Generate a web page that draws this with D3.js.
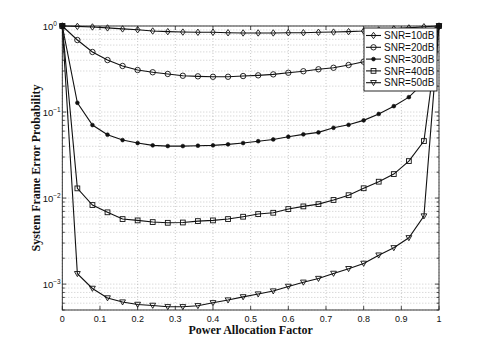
<!DOCTYPE html>
<html>
<head>
<meta charset="utf-8">
<script src="https://cdn.jsdelivr.net/npm/d3@7"></script>
<style>
  body { margin: 0; background: #fff; }
  svg { display: block; }
</style>
</head>
<body>
<div id="chart"></div>
<script>
// Power allocation factor (x values)
var allocation = [0, 0.04, 0.08, 0.12, 0.16, 0.2, 0.24, 0.28, 0.32, 0.36, 0.4, 0.44, 0.48,
  0.52, 0.56, 0.6, 0.64, 0.68, 0.72, 0.76, 0.8, 0.84, 0.88, 0.92, 0.96, 1];

var seriesNames = ["SNR=10dB", "SNR=20dB", "SNR=30dB", "SNR=40dB", "SNR=50dB"];
var seriesMarkers = ["diamond", "circle", "dot", "square", "triangle"];

var snr10 = [1, 0.99, 0.975, 0.95, 0.925, 0.905, 0.875, 0.86, 0.85, 0.845, 0.845, 0.835, 0.83,
  0.83, 0.83, 0.835, 0.835, 0.845, 0.85, 0.86, 0.875, 0.9, 0.925, 0.95, 0.98, 1];
var snr20 = [1, 0.687, 0.499, 0.402, 0.343, 0.308, 0.29, 0.277, 0.264, 0.26, 0.257, 0.257, 0.262,
  0.267, 0.274, 0.286, 0.298, 0.314, 0.327, 0.352, 0.385, 0.44, 0.526, 0.657, 0.822, 1];
var snr30 = [1, 0.128, 0.0706, 0.0545, 0.0472, 0.0436, 0.041, 0.0402, 0.0402, 0.0406, 0.041, 0.0421, 0.0436,
  0.0458, 0.048, 0.0516, 0.055, 0.058, 0.0656, 0.071, 0.08, 0.095, 0.117, 0.149, 0.22, 1];
var snr40 = [1, 0.01296, 0.0083, 0.00683, 0.0057, 0.0055, 0.00526, 0.00516, 0.0052, 0.0054, 0.0055, 0.0057, 0.00607,
  0.00652, 0.00675, 0.00745, 0.008, 0.0085, 0.0095, 0.0108, 0.013, 0.0155, 0.019, 0.0269, 0.046, 1];
var snr50 = [1, 0.00132, 0.00089, 0.00069, 0.000618, 0.00058, 0.000565, 0.000545, 0.000545, 0.00056, 0.000606, 0.000652, 0.00071,
  0.000766, 0.00083, 0.00094, 0.00105, 0.00116, 0.00133, 0.00151, 0.00174, 0.00217, 0.00264, 0.00345, 0.00618, 1];

var seriesValues = [snr10, snr20, snr30, snr40, snr50];

var xTicks = [0, 0.1, 0.2, 0.3, 0.4, 0.5, 0.6, 0.7, 0.8, 0.9, 1];
var yDecades = [-3, -2, -1, 0];

var xTitle = "Power Allocation Factor";
var yTitle = "System Frame Error Probability";

// Set the dimensions of the canvas / graph
var margin = { top: 26, right: 46, bottom: 39, left: 62.3 },
  width = 485 - margin.left - margin.right,
  height = 349 - margin.top - margin.bottom;

var x = d3.scaleLinear().domain([0, 1]).range([0, width]);
var y = d3.scaleLog().domain([5e-4, 1]).range([height, 0]);

var svg = d3
  .select("#chart")
  .append("svg")
  .attr("width", 485)
  .attr("height", 349)
  .append("g")
  .attr("transform", "translate(" + margin.left + "," + margin.top + ")");

// grid lines (dotted)
var minorVals = [];
for (var d = -4; d <= 0; d++) {
  for (var k = 1; k <= 9; k++) {
    var v = k * Math.pow(10, d);
    if (v >= 5e-4 && v <= 1) minorVals.push(v);
  }
}

svg
  .selectAll(".ygrid")
  .data(minorVals)
  .enter()
  .append("line")
  .attr("class", "ygrid")
  .attr("x1", 0)
  .attr("x2", width)
  .attr("y1", d => y(d))
  .attr("y2", d => y(d))
  .attr("stroke", "#bdbdbd")
  .attr("stroke-width", 0.8)
  .attr("stroke-dasharray", "1,2");

svg
  .selectAll(".xgrid")
  .data(xTicks)
  .enter()
  .append("line")
  .attr("class", "xgrid")
  .attr("x1", d => x(d))
  .attr("x2", d => x(d))
  .attr("y1", 0)
  .attr("y2", height)
  .attr("stroke", "#bdbdbd")
  .attr("stroke-width", 0.8)
  .attr("stroke-dasharray", "1,2");

// ticks (inward, on all four sides)
var ticks = svg.append("g").attr("stroke", "#222").attr("stroke-width", 0.8);
xTicks.forEach(function(t) {
  ticks.append("line").attr("x1", x(t)).attr("x2", x(t)).attr("y1", height).attr("y2", height - 4);
  ticks.append("line").attr("x1", x(t)).attr("x2", x(t)).attr("y1", 0).attr("y2", 4);
});
minorVals.forEach(function(v) {
  var major = yDecades.some(e => Math.abs(Math.pow(10, e) - v) < 1e-12);
  var len = major ? 4 : 2.5;
  ticks.append("line").attr("x1", 0).attr("x2", len).attr("y1", y(v)).attr("y2", y(v));
  ticks.append("line").attr("x1", width).attr("x2", width - len).attr("y1", y(v)).attr("y2", y(v));
});

// axes box
svg
  .append("rect")
  .attr("x", 0)
  .attr("y", 0)
  .attr("width", width)
  .attr("height", height)
  .attr("fill", "none")
  .attr("stroke", "#222")
  .attr("stroke-width", 0.9);

// tick labels
svg
  .selectAll(".xlab")
  .data(xTicks)
  .enter()
  .append("text")
  .attr("class", "xlab")
  .attr("x", d => x(d))
  .attr("y", height + 11.8)
  .attr("text-anchor", "middle")
  .attr("font-family", "Liberation Sans, Arial, sans-serif")
  .attr("font-size", 9)
  .attr("fill", "#111")
  .text(d => d3.format("~g")(d));

var ylab = svg
  .selectAll(".ylab")
  .data(yDecades)
  .enter()
  .append("text")
  .attr("class", "ylab")
  .attr("x", -19.6)
  .attr("y", d => y(Math.pow(10, d)) + 4)
  .attr("font-family", "Liberation Sans, Arial, sans-serif")
  .attr("font-size", 9.5)
  .attr("fill", "#111");
ylab.append("tspan").text("10");
ylab
  .append("tspan")
  .attr("dy", -4.5)
  .attr("font-size", 6.5)
  .text(d => (d < 0 ? "\u2212" : "") + Math.abs(d));

// axis titles
svg
  .append("text")
  .attr("x", width / 2)
  .attr("y", height + 24)
  .attr("text-anchor", "middle")
  .attr("font-family", "Liberation Serif, Times New Roman, serif")
  .attr("font-weight", "bold")
  .attr("font-size", 12)
  .attr("fill", "#111")
  .text(xTitle);

svg
  .append("text")
  .attr("transform", "translate(" + (39.5 - margin.left) + "," + height / 2 + ") rotate(-90)")
  .attr("text-anchor", "middle")
  .attr("font-family", "Liberation Serif, Times New Roman, serif")
  .attr("font-weight", "bold")
  .attr("font-size", 12)
  .attr("fill", "#111")
  .text(yTitle);

// markers
function drawMarker(g, type, cx, cy) {
  if (type == "circle") {
    g.append("circle").attr("cx", cx).attr("cy", cy).attr("r", 2.7)
      .attr("fill", "none").attr("stroke", "#111").attr("stroke-width", 0.9);
  } else if (type == "dot") {
    g.append("circle").attr("cx", cx).attr("cy", cy).attr("r", 1.9)
      .attr("fill", "#111").attr("stroke", "#111").attr("stroke-width", 0.6);
  } else if (type == "diamond") {
    g.append("path")
      .attr("d", "M" + cx + "," + (cy - 3.2) + "L" + (cx + 2.3) + "," + cy + "L" + cx + "," + (cy + 3.2) + "L" + (cx - 2.3) + "," + cy + "Z")
      .attr("fill", "none").attr("stroke", "#111").attr("stroke-width", 0.9);
  } else if (type == "square") {
    g.append("rect").attr("x", cx - 2.4).attr("y", cy - 2.4).attr("width", 4.8).attr("height", 4.8)
      .attr("fill", "none").attr("stroke", "#111").attr("stroke-width", 0.9);
  } else if (type == "triangle") {
    g.append("path")
      .attr("d", "M" + (cx - 2.9) + "," + (cy - 2.2) + "L" + (cx + 2.9) + "," + (cy - 2.2) + "L" + cx + "," + (cy + 2.9) + "Z")
      .attr("fill", "none").attr("stroke", "#111").attr("stroke-width", 0.9);
  }
}

var line = d3
  .line()
  .x(d => x(d[0]))
  .y(d => y(d[1]));

seriesValues.forEach(function(vals, si) {
  var pts = allocation.map((a, i) => [a, vals[i]]);
  var g = svg.append("g").attr("class", "series");
  g.append("path")
    .datum(pts)
    .attr("d", line)
    .attr("fill", "none")
    .attr("stroke", "#111")
    .attr("stroke-width", 1.1);
  pts.forEach(function(p) {
    drawMarker(g, seriesMarkers[si], x(p[0]), y(p[1]));
  });
});

// legend
var lg = svg.append("g").attr("transform", "translate(" + (364 - margin.left) + "," + (28 - margin.top) + ")");
lg.append("rect")
  .attr("width", 73)
  .attr("height", 63)
  .attr("fill", "#fff")
  .attr("stroke", "#111")
  .attr("stroke-width", 0.9);
seriesNames.forEach(function(name, i) {
  var cy = 7.5 + i * 11.8;
  lg.append("line")
    .attr("x1", 2)
    .attr("x2", 17)
    .attr("y1", cy)
    .attr("y2", cy)
    .attr("stroke", "#111")
    .attr("stroke-width", 1.1);
  drawMarker(lg, seriesMarkers[i], 9.5, cy);
  lg.append("text")
    .attr("x", 20)
    .attr("y", cy + 3.6)
    .attr("font-family", "Liberation Sans, Arial, sans-serif")
    .attr("font-size", 10)
    .attr("fill", "#111")
    .text(name);
});
</script>
</body>
</html>
